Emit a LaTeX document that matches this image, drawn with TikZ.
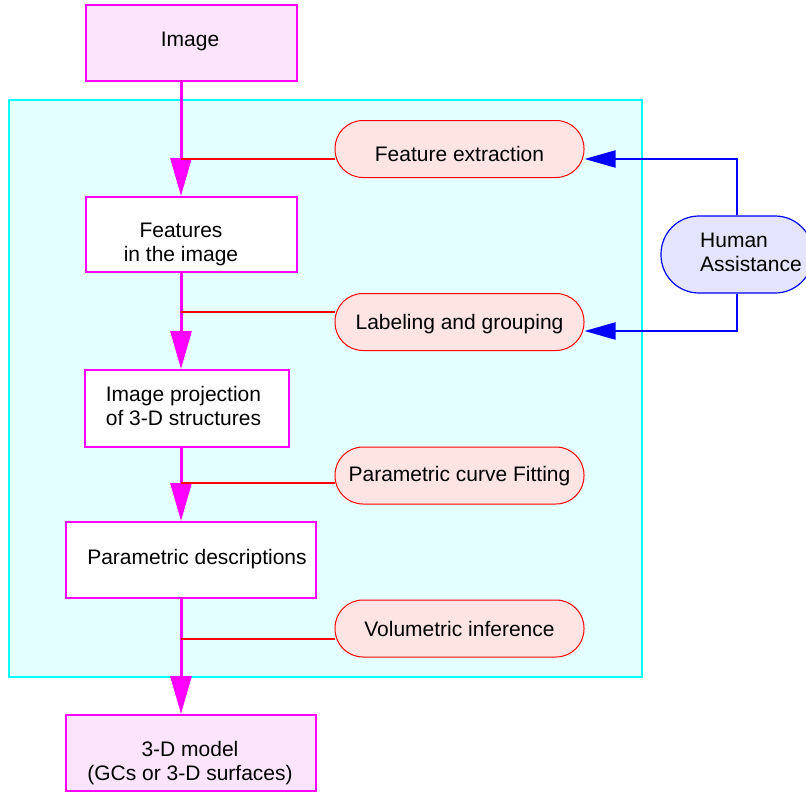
\documentclass[tikz,border=0pt]{standalone}
\usepackage{fontspec}
\setmainfont{Liberation Sans}
\usetikzlibrary{arrows.meta}
\definecolor{mag}{RGB}{255,0,255}
\definecolor{pinkfill}{RGB}{252,228,252}
\definecolor{cyanfill}{RGB}{228,255,255}
\definecolor{cyanline}{RGB}{0,255,255}
\definecolor{redline}{RGB}{255,0,0}
\definecolor{ovalfill}{RGB}{255,228,228}
\definecolor{blueline}{RGB}{0,0,255}
\definecolor{lavfill}{RGB}{228,228,252}
\pgfdeclarelayer{panellayer}
\pgfdeclarelayer{linelayer}
\pgfsetlayers{panellayer,linelayer,main}
\begin{document}
\begin{tikzpicture}[x=1pt,y=-1pt,font=\fontsize{21}{24}\selectfont,
  box/.style={draw=mag,line width=2pt,inner sep=0pt,anchor=center},
  oval/.style={draw=redline,fill=ovalfill,line width=1pt,rounded corners=28pt,
    minimum width=249pt,minimum height=57pt,inner sep=0pt,text height=15pt,text depth=0pt},
  txt/.style={align=center,inner sep=0pt},
  spinearrow/.style={draw=mag,line width=3pt,-{Triangle[length=38pt,width=21pt]}},
  feed/.style={draw=redline,line width=2pt},
  assist/.style={draw=blueline,line width=2pt,-{Triangle[length=31pt,width=17pt]}}]
\useasboundingbox (0,0) rectangle (806,792);

% panel
\begin{pgfonlayer}{panellayer}
\node[draw=cyanline,fill=cyanfill,line width=2pt,minimum width=633pt,minimum height=577pt,inner sep=0pt] (panel) at (325.5,388.5) {};
\end{pgfonlayer}

% boxes
\node[box,fill=pinkfill,minimum width=211pt,minimum height=76pt] (img) at (191.5,43) {};
\node[box,fill=white,minimum width=211pt,minimum height=75pt] (feat) at (191.5,234.5) {};
\node[box,fill=white,minimum width=204pt,minimum height=77pt] (proj) at (187,408.5) {};
\node[box,fill=white,minimum width=250pt,minimum height=76pt] (param) at (191,560) {};
\node[box,fill=pinkfill,minimum width=250pt,minimum height=76pt] (model) at (191,753) {};

\node[txt] (imgt) at (190,41) {Image};
\node[txt] (featt) at (181,244) {Features\\in the image};
\node[txt,align=left] (projt) at (183.5,406) {Image projection\\of 3-D structures};
\node[txt] (paramt) at (197,559.5) {Parametric descriptions};
\node[txt] (modelt) at (190,763.5) {3-D model\\(GCs or 3-D surfaces)};

% ovals
\node[oval,text height=25pt] (fe) at (459.5,149) {Feature extraction};
\node[oval] (le) at (459.5,322) {Labeling and grouping};
\node[oval,text depth=3pt] (pf) at (459.5,475.5) {Parametric curve Fitting};
\node[oval] (vi) at (459.5,628.5) {Volumetric inference};

% human assistance
\node[draw=blueline,fill=lavfill,line width=1.2pt,rounded corners=38pt,minimum width=152pt,minimum height=77pt,inner sep=0pt] (human) at (737,254.5) {};
\node[txt,align=left,anchor=west] (humant) at (700,252) {Human\\Assistance};

% spine
\coordinate (sp) at (181,0);
\begin{pgfonlayer}{linelayer}
\draw[spinearrow] (img.south -| sp) -- (feat.north -| sp);
\draw[spinearrow] (feat.south -| sp) -- (proj.north -| sp);
\draw[spinearrow] (proj.south -| sp) -- (param.north -| sp);
\draw[spinearrow] (param.south -| sp) -- (model.north -| sp);

\coordinate (fe-in) at ([yshift=-10pt]fe.west);
\coordinate (le-in) at ([yshift=10pt]le.west);
\coordinate (pf-in) at ([yshift=-7.5pt]pf.west);
\coordinate (vi-in) at ([yshift=-10.5pt]vi.west);
\draw[feed] (fe-in -| sp) -- (fe-in);
\draw[feed] (le-in -| sp) -- (le-in);
\draw[feed] (pf-in -| sp) -- (pf-in);
\draw[feed] (vi-in -| sp) -- (vi-in);
\end{pgfonlayer}

\coordinate (fe-out) at ([yshift=-10pt]fe.east);
\coordinate (le-out) at ([yshift=-9pt]le.east);
\draw[assist] (human.north) |- (fe-out);
\draw[assist] (human.south) |- (le-out);
\end{tikzpicture}
\end{document}
